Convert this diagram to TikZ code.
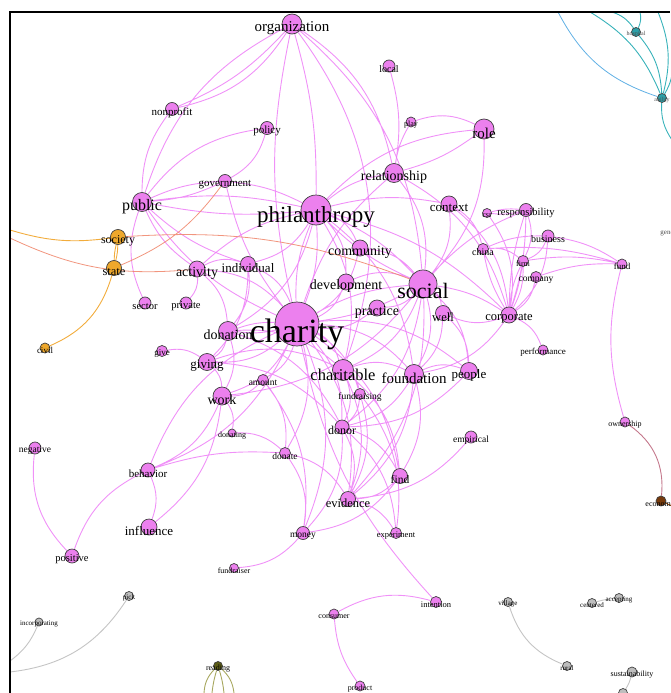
\documentclass[tikz,border=0pt]{standalone}
\usepackage{fontspec}
\setmainfont{Liberation Serif}
\usetikzlibrary{backgrounds}

\definecolor{vfill}{RGB}{236,128,238}
\definecolor{vedge}{RGB}{236,118,246}
\definecolor{ofill}{RGB}{238,168,44}
\definecolor{oedge}{RGB}{242,172,60}
\definecolor{sedge}{RGB}{240,138,112}
\definecolor{gfill}{RGB}{190,190,190}
\definecolor{gedge}{RGB}{196,196,196}
\definecolor{tfill}{RGB}{44,160,168}
\definecolor{tedge}{RGB}{56,178,186}
\definecolor{bedge}{RGB}{96,176,228}
\definecolor{olfill}{RGB}{92,92,22}
\definecolor{oledge}{RGB}{168,168,96}
\definecolor{brfill}{RGB}{118,58,12}
\definecolor{bredge}{RGB}{196,120,140}

\begin{document}
\begin{tikzpicture}[
x=1pt, y=-1pt,
vnode/.style={circle, draw=black!75, line width=0.7pt, fill=vfill, inner sep=0pt, minimum size=#1},
onode/.style={vnode=#1, fill=ofill},
gnode/.style={vnode=#1, fill=gfill},
tnode/.style={vnode=#1, fill=tfill},
olnode/.style={vnode=#1, fill=olfill},
brnode/.style={vnode=#1, fill=brfill},
lbl/.style={font=\fontsize{#1}{#1}\selectfont, inner sep=0pt, yshift={-0.3pt*#1}},
medge/.style={draw=vedge, line width=0.9pt, opacity=0.8, bend left=22},
oline/.style={draw=oedge, line width=0.9pt, bend left=22},
sline/.style={draw=sedge, line width=0.8pt, opacity=0.9, bend left=18},
tline/.style={draw=tedge, line width=0.9pt, bend left=18},
gline/.style={draw=gedge, line width=0.9pt, bend left=22},
frame/.style={line width=2.6pt}
]
\useasboundingbox (0,0) rectangle (670,693);

% ---------- CHARITY CLUSTER ----------

\node[vnode=20, label={[lbl=15]center:organization}] (organization) at (292,24) {};
\node[vnode=13, label={[lbl=11]center:nonprofit}] (nonprofit) at (172,109) {};
\node[vnode=13, label={[lbl=11]center:policy}] (policy) at (267,128) {};
\node[vnode=13, label={[lbl=11]center:government}] (government) at (225,181) {};
\node[vnode=19, label={[lbl=16]center:public}] (public) at (142,202) {};
\node[vnode=30, label={[lbl=23]center:philanthropy}] (philanthropy) at (316,210) {};
\node[vnode=12, label={[lbl=10]center:local}] (local) at (389,66) {};
\node[vnode=10, label={[lbl=8]center:play}] (play) at (411,122) {};
\node[vnode=20, label={[lbl=15]center:role}] (role) at (484,129) {};
\node[vnode=19, label={[lbl=14]center:relationship}] (relationship) at (394,173) {};
\node[vnode=16, label={[lbl=13]center:context}] (context) at (449,204) {};
\node[vnode=9, label={[lbl=8]center:csr}] (csr) at (487,213) {};
\node[vnode=13, label={[lbl=10.5]center:responsibility}] (responsibility) at (526,210) {};
\node[vnode=12, label={[lbl=10]center:business}] (business) at (548,236) {};
\node[vnode=11, label={[lbl=10]center:china}] (china) at (483,249) {};
\node[vnode=11, label={[lbl=8]center:firm}] (firm) at (523,261) {};
\node[vnode=11, label={[lbl=9.5]center:company}] (company) at (536,277) {};
\node[vnode=16, label={[lbl=12.5]center:corporate}] (corporate) at (509,315) {};
\node[vnode=10, label={[lbl=9]center:fund}] (fund) at (622,264) {};
\node[vnode=10, label={[lbl=9]center:performance}] (performance) at (543,350) {};
\node[vnode=10, label={[lbl=8]center:ownership}] (ownership) at (625,422) {};
\node[vnode=12, label={[lbl=9.5]center:empirical}] (empirical) at (471,437) {};
\node[vnode=17, label={[lbl=13]center:people}] (people) at (469,371) {};
\node[vnode=19, label={[lbl=15]center:foundation}] (foundation) at (414,374) {};
\node[vnode=15, label={[lbl=12.5]center:well}] (well) at (443,313) {};
\node[vnode=28, label={[lbl=22]center:social}] (social) at (423,284) {};
\node[vnode=16, label={[lbl=14]center:practice}] (practice) at (377,308) {};
\node[vnode=16, label={[lbl=14]center:community}] (community) at (360,248) {};
\node[vnode=16, label={[lbl=14]center:development}] (development) at (346,282) {};
\node[vnode=15, label={[lbl=13]center:individual}] (individual) at (248,264) {};
\node[vnode=16, label={[lbl=14]center:activity}] (activity) at (197,269) {};
\node[vnode=12, label={[lbl=10.5]center:sector}] (sector) at (145,303) {};
\node[vnode=12, label={[lbl=10.5]center:private}] (private) at (186,303) {};
\node[vnode=44, label={[lbl=34]center:charity}] (charity) at (297,324) {};
\node[vnode=19, label={[lbl=14]center:donation}] (donation) at (228,331) {};
\node[vnode=11, label={[lbl=9]center:give}] (give) at (162,351) {};
\node[vnode=17, label={[lbl=13]center:giving}] (giving) at (207,362) {};
\node[vnode=11, label={[lbl=9.5]center:amount}] (amount) at (263,380) {};
\node[vnode=21, label={[lbl=16.5]center:charitable}] (charitable) at (343,370) {};
\node[vnode=11, label={[lbl=9.5]center:fundraising}] (fundraising) at (360,394) {};
\node[vnode=18, label={[lbl=14]center:work}] (work) at (222,396) {};
\node[vnode=14, label={[lbl=12]center:donor}] (donor) at (342,427) {};
\node[vnode=8, label={[lbl=8]center:donating}] (donating) at (232,433) {};
\node[vnode=11, label={[lbl=9.5]center:donate}] (donate) at (285,453) {};
\node[vnode=12, label={[lbl=9.5]center:negative}] (negative) at (35,448) {};
\node[vnode=14, label={[lbl=11]center:behavior}] (behavior) at (148,470) {};
\node[vnode=15, label={[lbl=11.5]center:find}] (find) at (400,476) {};
\node[vnode=15, label={[lbl=12.5]center:evidence}] (evidence) at (348,499) {};
\node[vnode=16, label={[lbl=13]center:influence}] (influence) at (149,527) {};
\node[vnode=11, label={[lbl=8.5]center:experiment}] (experiment) at (396,533) {};
\node[vnode=13, label={[lbl=9.5]center:money}] (money) at (303,533) {};
\node[vnode=14, label={[lbl=10.5]center:positive}] (positive) at (72,556) {};
\node[vnode=9, label={[lbl=8]center:fundraiser}] (fundraiser) at (234,568) {};
\node[vnode=11, label={[lbl=8.5]center:intention}] (intention) at (436,602) {};
\node[vnode=10, label={[lbl=8]center:consumer}] (consumer) at (334,614) {};
\node[vnode=10, label={[lbl=8]center:product}] (product) at (360,686) {};

% ---------- OTHER CLUSTERS ----------

\node[onode=15, label={[lbl=12]center:society}] (society) at (118,237) {};
\node[onode=15, label={[lbl=12.5]center:state}] (state) at (114,268) {};
\node[onode=10, label={[lbl=9]center:civil}] (civil) at (45,348) {};

\node[gnode=9, label={[lbl=7]center:pick}] (pick) at (129,596) {};
\node[gnode=8, label={[lbl=7]center:incorporating}] (incorporating) at (39,622) {};
\node[gnode=9, label={[lbl=7]center:village}] (village) at (508,602) {};
\node[gnode=9, label={[lbl=7]center:rural}] (rural) at (567,666) {};
\node[gnode=9, label={[lbl=7]center:centered}] (centered) at (592,603) {};
\node[gnode=9, label={[lbl=7]center:accepting}] (accepting) at (619,598) {};
\node[gnode=10, label={[lbl=8]center:sustainability}] (sustainability) at (632,672) {};
\node[gnode=9] (lowgrey) at (623,693) {};

\node[olnode=9, label={[lbl=8]center:reading}] (reading) at (218,666) {};
\node[brnode=10, label={[lbl=8]center:economic}] (economic) at (661,501) {};
\node[tnode=9, label={[lbl=6, text=black!70]center:hospital}] (hospital) at (636,32) {};
\node[tnode=9, label={[lbl=6, text=black!70]center:ability}] (ability) at (662,98) {};
\node[lbl=7, text=black!70] (gender) at (670,231) {gender};

% ---------- FREE ENDS ----------

\coordinate (westA) at (10,230);
\coordinate (westB) at (10,238);
\coordinate (westC) at (10,661);
\coordinate (westD) at (10,672);
\coordinate (eastA) at (672,506);
\coordinate (eastB) at (672,60);
\coordinate (eastC) at (672,140);
\coordinate (topA) at (558,12);
\coordinate (topB) at (590,12);
\coordinate (topC) at (612,12);
\coordinate (topD) at (640,12);
\coordinate (topE) at (658,12);
\coordinate (botA) at (204,693);
\coordinate (botB) at (212,693);
\coordinate (botC) at (224,693);
\coordinate (botD) at (234,693);

% ---------- EDGES ----------

\begin{scope}[on background layer]
\draw[medge]
  (organization) to (nonprofit) (organization) to[bend left=12] (nonprofit)
  (public) to (organization) (charity) to[bend left=12] (organization)
  (organization) to[bend left=8] (philanthropy) (organization) to (social)
  (organization) to (relationship) (organization) to[bend left=28] (charitable)
  (public) to[bend left=18] (nonprofit) (public) to (policy) (policy) to (government)
  (public) to[bend left=10] (government) (government) to[bend left=10] (public)
  (public) to[bend left=10] (philanthropy) (public) to[bend right=8] (philanthropy)
  (public) to[bend right=15] (charity) (public) to[bend right=15] (activity)
  (sector) to (public) (public) to[bend right=12] (individual)
  (government) to[bend left=10] (philanthropy) (government) to[bend right=12] (charity);
\draw[medge]
  (local) to[bend left=12] (relationship) (play) to (role) (play) to[bend right=10] (relationship)
  (role) to[bend right=20] (philanthropy) (role) to (social) (relationship) to[bend right=10] (role)
  (relationship) to[bend right=15] (philanthropy) (relationship) to (social)
  (relationship) to (corporate) (relationship) to[bend right=15] (charity)
  (context) to[bend right=12] (philanthropy) (context) to (social) (context) to (china)
  (context) to (corporate) (csr) to[bend left=10] (responsibility) (csr) to[bend right=10] (responsibility)
  (csr) to (corporate) (responsibility) to[bend left=8] (corporate) (responsibility) to[bend right=8] (corporate)
  (responsibility) to (firm) (responsibility) to[bend right=12] (social)
  (business) to (corporate) (business) to[bend left=12] (fund) (business) to[bend right=12] (china)
  (business) to (firm) (china) to[bend right=10] (corporate) (china) to[bend left=10] (fund)
  (firm) to[bend left=10] (fund) (company) to[bend left=10] (fund) (company) to (corporate)
  (firm) to[bend left=5] (corporate) (firm) to[bend left=15] (corporate) (firm) to[bend right=10] (corporate)
  (china) to (firm) (corporate) to[bend right=12] (social) (corporate) to (well)
  (corporate) to (performance) (corporate) to[bend right=15] (philanthropy) (corporate) to (foundation)
  (fund) to[bend right=15] (ownership);
\draw[medge]
  (philanthropy) to[bend left=12] (charity) (philanthropy) to[bend right=12] (charity)
  (philanthropy) to[bend left=12] (social) (philanthropy) to[bend right=10] (social)
  (philanthropy) to (community) (philanthropy) to (development) (philanthropy) to (foundation)
  (philanthropy) to (individual) (philanthropy) to[bend right=15] (activity)
  (philanthropy) to (charitable) (philanthropy) to (donation)
  (community) to (social) (community) to (charity) (development) to (social) (development) to (charity)
  (social) to[bend left=10] (charity) (social) to[bend right=12] (charity) (social) to (practice)
  (social) to (well) (social) to (foundation) (social) to (charitable) (social) to (people)
  (social) to (donor) (social) to (evidence) (social) to (work) (practice) to (charity)
  (well) to (foundation) (well) to (people)
  (individual) to (charity) (individual) to (donation) (individual) to (giving) (activity) to (individual)
  (activity) to (charity) (activity) to (private) (activity) to (donation);
\draw[medge]
  (charity) to[bend left=10] (donation) (charity) to[bend right=10] (donation) (charity) to (giving)
  (charity) to (work) (charity) to (charitable) (charity) to (foundation) (charity) to (donor)
  (charity) to (fundraising) (charity) to (amount) (charity) to (donate) (charity) to (people)
  (charity) to (behavior) (charity) to (evidence) (charity) to (find) (charity) to (money)
  (charity) to[bend right=15] (intention)
  (donation) to (giving) (donation) to (work) (donation) to (donor) (donation) to (charitable)
  (give) to (giving) (giving) to (work) (giving) to (charitable) (giving) to (donor)
  (amount) to (work) (amount) to (donate) (amount) to (money)
  (charitable) to (foundation) (charitable) to (donor) (charitable) to (fundraising)
  (charitable) to (evidence) (charitable) to (find)
  (foundation) to (find) (foundation) to (evidence) (foundation) to (people) (foundation) to (donor)
  (people) to (donor) (fundraising) to (donor) (fundraising) to (evidence) (fundraising) to (experiment)
  (work) to (influence) (work) to (behavior) (work) to (donating)
  (donor) to (find) (donor) to (evidence) (donor) to (experiment) (donor) to (money)
  (donating) to (donate) (donate) to (money) (donate) to (evidence) (behavior) to[bend left=10] (donate)
  (empirical) to (evidence) (negative) to[bend right=25] (positive)
  (positive) to (behavior) (behavior) to (influence) (behavior) to (charity)
  (find) to (evidence) (find) to (money) (evidence) to (experiment)
  (money) to (fundraiser) (consumer) to (intention) (consumer) to[bend right=15] (product);

\draw[oline] (society) to[bend left=6] (state) (state) to[bend left=6] (society)
  (westA) to[bend right=12] (society) (state) to[bend left=25] (civil);
\draw[sline] (westB) to[bend right=15] (activity) (state) to[bend right=15] (government)
  (society) to[bend left=12] (social);

\draw[tline] (topB) to (ability) (topC) to (hospital) (topD) to (hospital)
  (topE) to (ability) (hospital) to (ability) (eastB) to (ability) (eastC) to (ability);
\draw[draw=bedge, line width=0.8pt] (topA) to[bend right=22] (ability);

\draw[gline] (pick) to[bend left=25] (westD) (incorporating) to[bend left=15] (westC)
  (village) to[bend right=25] (rural) (centered) to[bend left=5] (accepting)
  (sustainability) to[bend left=10] (lowgrey);
\draw[draw=oledge, line width=0.9pt] (reading) to[bend right=20] (botA) (reading) to[bend right=5] (botB)
  (reading) to[bend left=5] (botC) (reading) to[bend left=20] (botD);
\draw[draw=bredge, line width=0.9pt] (ownership) to[bend left=30] (economic);
\draw[draw=brfill!70!orange, line width=0.9pt] (economic) to (eastA);
\end{scope}

% ---------- FRAME ----------

\draw[frame] (10,693) -- (10,12) -- (670,12);

\end{tikzpicture}
\end{document}
